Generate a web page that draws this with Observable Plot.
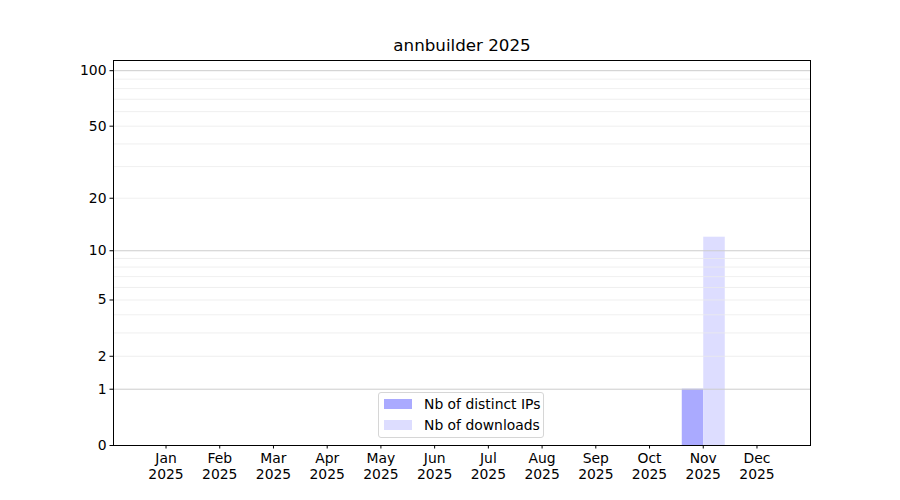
<!DOCTYPE html>
<html><head><meta charset="utf-8">
<script src="https://cdn.jsdelivr.net/npm/d3@7"></script>
<script src="https://cdn.jsdelivr.net/npm/@observablehq/plot@0.6"></script>
<style>
body{margin:0;background:#fff;font-family:"DejaVu Sans",sans-serif;}
#wrap{position:relative;width:900px;height:500px;}
.legend{position:absolute;left:378px;top:392px;width:166px;height:46px;border:1px solid #d6d6d6;border-radius:3px;background:rgba(255,255,255,0.8);box-sizing:border-box;font-size:13.9px;color:#000;}
.legend .row{position:absolute;left:5px;height:14px;display:flex;align-items:center;white-space:nowrap;}
.legend .sw{width:28px;height:10px;margin-right:12px;}
</style>
</head><body>
<div id="wrap"></div>
<script>
const title = "annbuilder 2025";
const months = ["Jan","Feb","Mar","Apr","May","Jun","Jul","Aug","Sep","Oct","Nov","Dec"];
const year = "2025";
const distinctIPs = [0,0,0,0,0,0,0,0,0,0,1,0];
const downloads   = [0,0,0,0,0,0,0,0,0,0,12,0];
const yTicks = [0,1,2,5,10,20,50,100];
const majorGrid = [1,10,100];
const minorGrid = [2,3,4,5,6,7,8,9,20,30,40,50,60,70,80,90];
const seriesNames = ["Nb of distinct IPs","Nb of downloads"];
const colors = ["#aaaaff","#ddddff"];

const rows = months.map((m,i)=>({i, m, ips: distinctIPs[i], dl: downloads[i]}));
const fs = 13.9;

const chart = Plot.plot({
  width: 900, height: 500,
  marginTop: 60, marginBottom: 55, marginLeft: 113, marginRight: 90,
  style: {fontFamily: "DejaVu Sans, sans-serif", color: "#000", background: "#fff"},
  x: {type: "linear", domain: [-0.987, 11.987]},
  y: {type: "symlog", constant: 1, domain: [0, 113.5]},
  marks: [
    Plot.rectY(rows.filter(d=>d.ips>0), {x1: d=>d.i-0.4, x2: d=>d.i, y1: 0, y2: "ips", fill: colors[0]}),
    Plot.rectY(rows.filter(d=>d.dl>0), {x1: d=>d.i, x2: d=>d.i+0.4, y1: 0, y2: "dl", fill: colors[1]}),
    Plot.ruleY(minorGrid, {stroke: "#ebebeb", strokeWidth: 0.8}),
    Plot.ruleY(majorGrid, {stroke: "#cccccc", strokeWidth: 1}),
    Plot.frame({stroke: "#000", strokeWidth: 1}),
    Plot.axisY(yTicks, {tickSize: 3.5, tickPadding: 3.5, fontSize: fs, tickFormat: d=>String(d), label: null}),
    Plot.axisX(months.map((_,i)=>i), {tickSize: 3.5, tickPadding: 2.5, dx: -0.5, fontSize: fs, lineHeight: 1.17, tickFormat: i=>months[i]+"\n"+year, label: null}),
    Plot.text([title], {frameAnchor: "top", dy: -15, lineAnchor: "middle", fontSize: 16.7, fill: "#000"})
  ]
});
const wrap = document.getElementById("wrap");
wrap.appendChild(chart);

const leg = document.createElement("div");
leg.className = "legend";
seriesNames.forEach((n,k)=>{
  const r = document.createElement("div");
  r.className = "row";
  r.style.top = (4 + k*21) + "px";
  const sw = document.createElement("div");
  sw.className = "sw"; sw.style.background = colors[k];
  const t = document.createElement("span"); t.textContent = n;
  r.appendChild(sw); r.appendChild(t);
  leg.appendChild(r);
});
wrap.appendChild(leg);
</script>
</body></html>
